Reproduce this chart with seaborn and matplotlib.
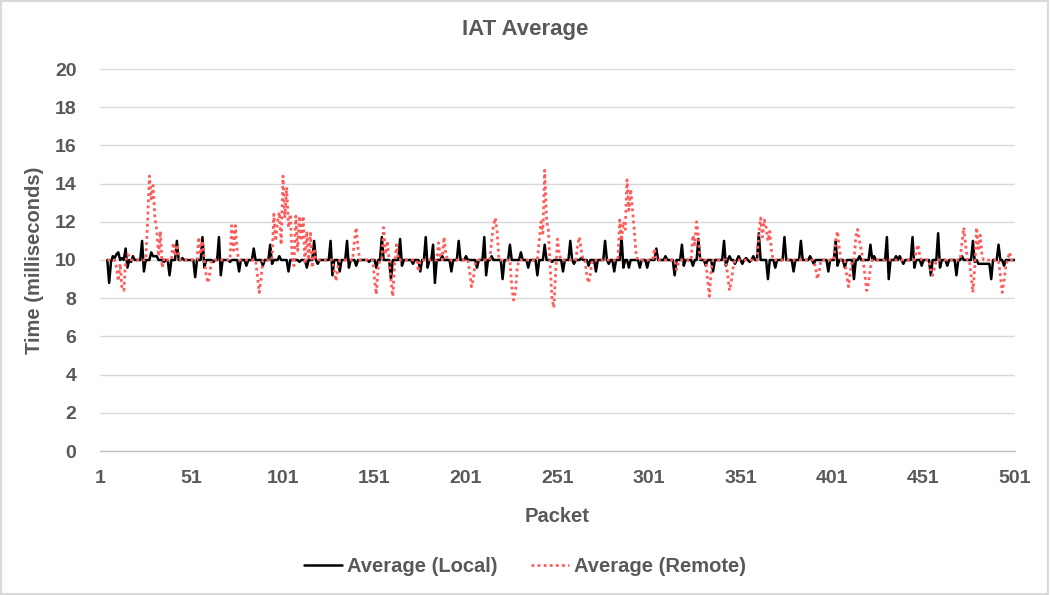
import pandas as pd
import seaborn as sns
import matplotlib
matplotlib.use("Agg")
import matplotlib.pyplot as plt
from matplotlib.patches import Rectangle

# Werte: Grundlinie 10 ms, dazu die sichtbaren Ausschläge
first_packet = 5
last_packet = 501
baseline = 10.0
x_ticks = list(range(1, 502, 50))
y_ticks = list(range(0, 21, 2))

local_packets = [5, 6, 7, 8, 9, 10, 11, 12, 13, 15, 16, 17, 18, 19, 20, 24, 25, 26, 29, 30, 31, 32, 33,
                 36, 39, 40, 43, 44, 46, 53, 57, 58, 60, 63, 66, 67, 69, 72, 77, 81, 85, 90, 94, 95,
                 99, 104, 110, 114, 118, 120, 127, 128, 132, 136, 137, 141, 148, 152, 155, 160, 165,
                 166, 172, 176, 179, 180, 183, 184, 188, 193, 197, 201, 207, 211, 212, 215, 221, 225,
                 231, 235, 240, 244, 248, 254, 258, 260, 264, 268, 272, 277, 279, 282, 286, 287, 290,
                 296, 300, 305, 310, 315, 319, 320, 325, 328, 332, 336, 342, 343, 345, 348, 350, 352,
                 354, 356, 358, 361, 366, 370, 375, 380, 384, 389, 391, 399, 403, 404, 408, 413, 416,
                 422, 424, 431, 432, 436, 438, 440, 445, 446, 450, 455, 459, 460, 464, 469, 472, 478,
                 479, 481, 482, 483, 484, 485, 486, 487, 488, 492, 495, 497]
local_values = [10.0, 8.8, 9.9, 10.2, 10.1, 10.3, 10.4, 10.0, 10.1, 10.6, 9.6, 10.0, 9.9, 10.2, 10.0,
                11.0, 9.4, 10.0, 10.4, 10.2, 10.2, 10.2, 10.0, 9.9, 9.2, 10.0, 11.0, 10.0, 10.1, 9.1,
                11.2, 9.6, 10.0, 9.9, 11.2, 9.2, 10.0, 9.9, 9.4, 9.7, 10.6, 9.7, 10.8, 9.8, 10.2, 9.4,
                9.9, 9.6, 11.0, 9.8, 11.0, 9.2, 9.4, 11.0, 9.6, 9.7, 9.9, 9.6, 11.2, 9.0, 11.1, 9.7,
                9.8, 9.4, 11.2, 9.6, 10.8, 8.8, 10.2, 9.4, 11.0, 10.2, 9.6, 11.2, 9.2, 10.2, 9.0, 10.8,
                10.4, 9.6, 9.2, 10.8, 9.9, 9.4, 11.0, 9.8, 10.1, 9.7, 9.4, 11.0, 9.8, 9.4, 11.2, 9.6,
                9.6, 9.6, 9.6, 10.6, 10.2, 9.2, 10.8, 9.7, 9.7, 11.1, 9.7, 9.4, 11.0, 9.7, 10.2, 9.8,
                10.2, 9.8, 10.1, 9.9, 10.2, 11.4, 9.0, 9.6, 11.2, 9.4, 11.0, 10.2, 9.8, 9.4, 11.0, 9.7,
                9.6, 9.0, 10.2, 10.8, 10.2, 11.2, 9.0, 10.2, 10.2, 9.8, 11.2, 9.6, 9.7, 9.2, 11.4, 9.6,
                9.7, 9.2, 10.2, 11.0, 9.9, 9.8, 9.8, 9.8, 9.8, 9.8, 9.8, 9.8, 9.0, 10.8, 9.7, 10.0]

remote_packets = [5, 10, 11, 12, 13, 14, 15, 16, 17, 27, 28, 29, 30, 31, 32, 33, 34, 35, 36, 41, 42, 43,
                  44, 55, 56, 57, 59, 60, 61, 73, 74, 75, 76, 87, 88, 89, 96, 97, 98, 99, 100, 101, 102,
                  103, 104, 105, 106, 107, 108, 109, 110, 111, 112, 113, 114, 115, 116, 117, 118, 129,
                  130, 131, 140, 141, 142, 151, 152, 153, 156, 157, 158, 160, 161, 162, 163, 175, 186,
                  187, 189, 190, 203, 204, 205, 206, 215, 216, 217, 218, 226, 227, 228, 229, 241, 242,
                  243, 244, 245, 246, 247, 248, 249, 250, 251, 252, 262, 263, 264, 267, 268, 269, 285,
                  286, 287, 288, 289, 290, 291, 292, 293, 294, 304, 316, 317, 325, 326, 327, 328, 333,
                  334, 335, 344, 345, 346, 347, 361, 362, 363, 364, 365, 366, 367, 368, 392, 393, 394,
                  403, 404, 405, 409, 410, 411, 414, 415, 416, 417, 419, 420, 421, 422, 447, 448, 449,
                  455, 456, 457, 472, 473, 474, 477, 478, 479, 480, 481, 482, 483, 493, 494, 495, 496,
                  498, 499]
remote_values = [10.0, 9.6, 8.9, 9.8, 8.5, 8.4, 9.9, 10.3, 10.2, 12.0, 14.4, 13.2, 13.9, 12.2, 11.6, 10.2,
                 11.5, 9.6, 10.1, 10.9, 10.2, 10.8, 10.3, 11.2, 10.3, 11.0, 9.2, 8.8, 9.3, 11.8, 10.5,
                 11.8, 10.4, 9.2, 8.3, 9.0, 12.4, 11.0, 12.0, 12.5, 10.8, 14.4, 12.2, 13.8, 11.7, 12.4,
                 10.2, 9.7, 12.3, 10.5, 12.3, 11.0, 12.3, 9.8, 11.5, 10.0, 11.4, 9.6, 10.6, 9.4, 8.9,
                 9.6, 11.0, 11.7, 10.6, 9.0, 8.2, 9.6, 11.7, 10.3, 11.0, 8.9, 8.1, 9.8, 10.8, 9.4, 10.9,
                 10.2, 11.2, 10.3, 9.4, 8.6, 9.0, 9.8, 11.0, 11.8, 12.2, 11.5, 8.6, 7.9, 8.3, 9.6, 11.0,
                 12.0, 11.4, 14.7, 12.1, 11.6, 9.6, 8.0, 7.5, 9.4, 11.1, 10.3, 10.8, 11.2, 10.5, 9.2,
                 8.8, 9.3, 12.1, 11.0, 12.0, 11.6, 14.2, 12.6, 13.7, 12.6, 11.5, 10.2, 10.6, 9.5, 9.8,
                 11.3, 10.8, 12.0, 11.2, 9.0, 8.1, 9.5, 9.2, 8.4, 8.9, 9.6, 11.4, 12.2, 11.2, 12.1,
                 11.7, 11.0, 11.5, 10.4, 9.6, 9.0, 9.4, 11.0, 11.5, 10.6, 9.2, 8.6, 9.4, 11.2, 11.6,
                 11.0, 10.5, 9.2, 8.4, 8.8, 9.6, 10.5, 10.8, 10.2, 9.4, 9.2, 9.6, 10.9, 11.7, 10.8, 9.2,
                 8.3, 9.6, 11.7, 10.6, 11.3, 10.2, 9.2, 8.3, 8.9, 9.7, 10.4, 10.0]


def full_series(pk, vals):
    s = pd.Series(vals, index=pk)
    return s.reindex(range(first_packet, last_packet + 1)).fillna(baseline)


df = pd.DataFrame({
    "Packet": list(range(first_packet, last_packet + 1)),
    "Average (Local)": full_series(local_packets, local_values).values,
    "Average (Remote)": full_series(remote_packets, remote_values).values,
})

sns.set_theme(style="white")
plt.rcParams["font.family"] = ["Liberation Sans", "DejaVu Sans"]
plt.rcParams["font.weight"] = "bold"
grey = "#595959"

fig = plt.figure(figsize=(10.5, 5.95), dpi=100)
ax = fig.add_axes([100 / 1050, 1 - 451 / 595, 915 / 1050, 382 / 595])

sns.lineplot(data=df, x="Packet", y="Average (Local)", ax=ax, color="black", lw=1.8,
             label="Average (Local)")
sns.lineplot(data=df, x="Packet", y="Average (Remote)", ax=ax, color="#FF5B5B", lw=2.0,
             linestyle=(0, (1, 1.2)), label="Average (Remote)")

ax.set_xlim(1, 501)
ax.set_ylim(0, 20)
ax.set_xticks(x_ticks)
ax.set_yticks(y_ticks)
ax.tick_params(length=0, labelsize=14, labelcolor=grey)
ax.tick_params(axis="y", pad=17)
ax.tick_params(axis="x", pad=14)
for lab in ax.get_xticklabels() + ax.get_yticklabels():
    lab.set_fontweight("bold")
ax.grid(axis="y", color="#D9D9D9", lw=1)
ax.set_axisbelow(True)
for side in ["top", "left", "right"]:
    ax.spines[side].set_visible(False)
ax.spines["bottom"].set_color("#BFBFBF")
ax.spines["bottom"].set_linewidth(1)
ax.set_xlabel("")
ax.set_ylabel("")
ax.get_legend().remove()

fig.text(0.5, 1 - 30 / 595, "IAT Average", ha="center", va="center", fontsize=16,
         fontweight="bold", color=grey)
fig.text(35 / 1050, 1 - 260 / 595, "Time (milliseconds)", ha="center", va="center",
         rotation=90, fontsize=14.5, fontweight="bold", color=grey)
fig.text(557 / 1050, 1 - 516 / 595, "Packet", ha="center", va="center", fontsize=14.5,
         fontweight="bold", color=grey)

handles, labels = ax.get_legend_handles_labels()
leg = fig.legend(handles, labels, loc="center", bbox_to_anchor=(0.5, 1 - 567 / 595), ncol=2,
                 frameon=False, fontsize=14.5, handlelength=1.9, columnspacing=1.65,
                 handletextpad=0.25)
for t in leg.get_texts():
    t.set_color(grey)
    t.set_fontweight("bold")

fig.patches.append(Rectangle((0.001, 0.002), 0.997, 0.996, transform=fig.transFigure,
                             fill=False, edgecolor="#D9D9D9", lw=1.5))

fig.savefig("out.png", dpi=100)
